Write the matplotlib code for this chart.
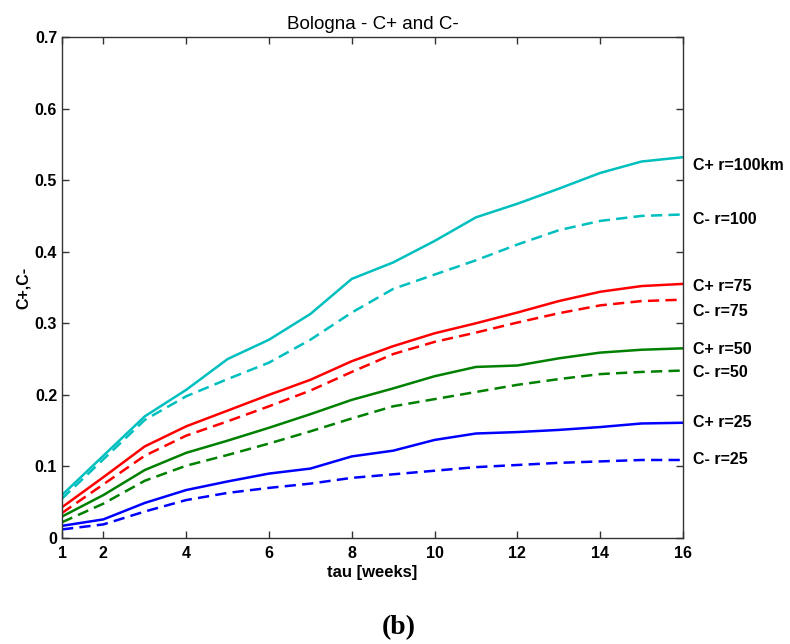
import matplotlib.pyplot as plt
import numpy as np

plt.rcParams["font.family"] = ["Liberation Sans", "DejaVu Sans"]

# tau in weeks
tau = np.arange(1, 17)

c_plus_100 = [0.060, 0.115, 0.170, 0.207, 0.250, 0.277, 0.313, 0.362,
              0.385, 0.415, 0.448, 0.467, 0.488, 0.510, 0.526, 0.532]
c_minus_100 = [0.055, 0.110, 0.165, 0.198, 0.222, 0.245, 0.277, 0.315,
               0.348, 0.368, 0.388, 0.410, 0.430, 0.443, 0.450, 0.452]
c_plus_75 = [0.043, 0.085, 0.128, 0.156, 0.178, 0.200, 0.221, 0.247,
             0.268, 0.286, 0.300, 0.315, 0.331, 0.344, 0.352, 0.355]
c_minus_75 = [0.035, 0.075, 0.115, 0.143, 0.163, 0.184, 0.206, 0.232,
              0.257, 0.274, 0.287, 0.301, 0.314, 0.325, 0.331, 0.333]
c_plus_50 = [0.030, 0.060, 0.095, 0.119, 0.136, 0.154, 0.173, 0.193,
             0.209, 0.226, 0.239, 0.241, 0.251, 0.259, 0.263, 0.265]
c_minus_50 = [0.022, 0.048, 0.080, 0.101, 0.116, 0.132, 0.149, 0.167,
              0.184, 0.194, 0.204, 0.214, 0.222, 0.229, 0.232, 0.234]
c_plus_25 = [0.017, 0.026, 0.049, 0.067, 0.079, 0.090, 0.097, 0.114,
             0.122, 0.137, 0.146, 0.148, 0.151, 0.155, 0.160, 0.161]
c_minus_25 = [0.012, 0.019, 0.037, 0.053, 0.063, 0.070, 0.076, 0.084,
              0.089, 0.094, 0.099, 0.102, 0.105, 0.107, 0.109, 0.109]

series = [
    (c_plus_100, "#00BFBF", "-", "C+ r=100km", 0.520),
    (c_minus_100, "#00BFBF", "--", "C- r=100", 0.445),
    (c_plus_75, "#FF0000", "-", "C+ r=75", 0.351),
    (c_minus_75, "#FF0000", "--", "C- r=75", 0.317),
    (c_plus_50, "#008000", "-", "C+ r=50", 0.264),
    (c_minus_50, "#008000", "--", "C- r=50", 0.231),
    (c_plus_25, "#0000FF", "-", "C+ r=25", 0.162),
    (c_minus_25, "#0000FF", "--", "C- r=25", 0.110),
]

fig = plt.figure(figsize=(7.9, 6.44), dpi=100)
ax = fig.add_axes([0.0785, 0.1646, 0.786, 0.778])

for vals, col, ls, lab, ylab in series:
    line, = ax.plot(tau, vals, ls, color=col, lw=1.8)
    if ls == "--":
        line.set_dashes((4.5, 2.5))
    # curve labels sit just outside the right spine
    ax.text(16.25, ylab, lab, fontsize=11.5, fontweight="bold",
            va="center", ha="left", clip_on=False)

ax.set_xlim(1, 16)
ax.set_ylim(0, 0.7)
ax.set_xticks([1, 2, 4, 6, 8, 10, 12, 14, 16])
ax.set_yticks(np.arange(0, 0.71, 0.1))
ax.set_yticklabels(["0", "0.1", "0.2", "0.3", "0.4", "0.5", "0.6", "0.7"])
ax.tick_params(direction="in", top=True, right=True, length=5,
               labelsize=11.5, width=1, colors="#333333", labelcolor="black")
ax.tick_params(axis="x", pad=6)
for lbl in ax.get_xticklabels() + ax.get_yticklabels():
    lbl.set_fontweight("bold")
for sp in ax.spines.values():
    sp.set_color("#333333")
    sp.set_linewidth(1)

ax.set_title("Bologna - C+ and C-", fontsize=13.5, pad=6)
ax.set_xlabel("tau [weeks]", fontsize=12, fontweight="bold", labelpad=3)
ax.set_ylabel("C+,C-", fontsize=11.5, fontweight="bold", labelpad=3)

fig.text(0.505, 0.026, "(b)", fontsize=20, fontweight="bold",
         family=["Liberation Serif", "DejaVu Serif"], ha="center", va="center")

fig.savefig("out.png", dpi=100)
